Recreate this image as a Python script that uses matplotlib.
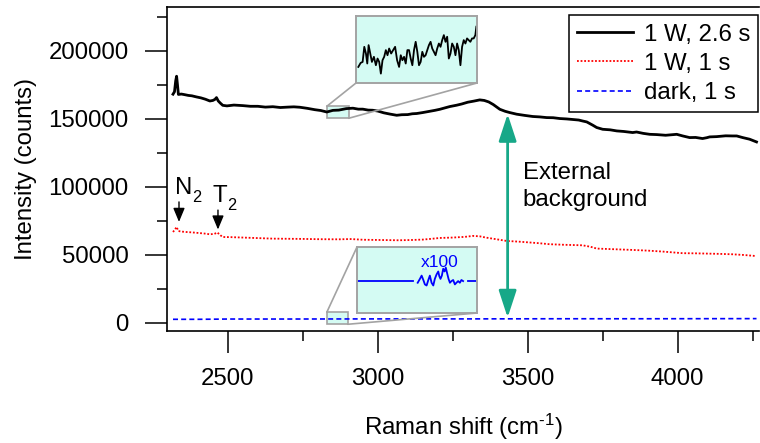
import matplotlib
matplotlib.use("Agg")
import matplotlib.pyplot as plt
from matplotlib.patches import Rectangle, ConnectionPatch, ArrowStyle
from matplotlib.ticker import MultipleLocator

plt.rcParams['font.family'] = ['Liberation Sans', 'DejaVu Sans']
plt.rcParams['mathtext.fontset'] = 'custom'
plt.rcParams['mathtext.rm'] = 'Liberation Sans'
plt.rcParams['mathtext.it'] = 'Liberation Sans:italic'

# ---------------- data ----------------
shift_hi = [2317, 2322, 2326, 2329, 2332, 2335, 2345, 2357, 2368, 2380, 2395, 2410, 2425,
            2440, 2450, 2457, 2462, 2468, 2475, 2483, 2497, 2520, 2550, 2575, 2600, 2625,
            2650, 2675, 2700, 2720, 2740, 2765, 2790, 2810, 2830, 2850, 2870, 2895, 2917,
            2935, 2950, 2968, 2983, 3000, 3020, 3040, 3063, 3080, 3100, 3115, 3130, 3150,
            3170, 3190, 3207, 3225, 3240, 3263, 3280, 3300, 3320, 3340, 3355, 3370, 3385,
            3407, 3425, 3440, 3463, 3490, 3517, 3540, 3563, 3585, 3607, 3630, 3650, 3670,
            3683, 3697, 3717, 3730, 3750, 3775, 3797, 3820, 3850, 3863, 3885, 3907, 3930,
            3960, 3997, 4017, 4040, 4060, 4083, 4097, 4107, 4130, 4160, 4183, 4197, 4217,
            4240, 4263]
int_hi = [168200, 170000, 178000, 181400, 175000, 168000, 168300, 167800, 167300, 167000,
          166200, 165500, 164500, 163200, 163600, 164400, 165700, 163200, 161600, 160000,
          159600, 160200, 159800, 159300, 159300, 158700, 159000, 158400, 158700, 158900,
          158600, 157800, 156800, 156200, 155100, 156300, 156500, 157600, 157900, 157200,
          157200, 156500, 156400, 155800, 154500, 153600, 152700, 153100, 153200, 153800,
          154000, 154700, 155500, 156300, 157100, 158200, 159100, 160100, 161000, 162300,
          163100, 164000, 163600, 162500, 160600, 157100, 155600, 154700, 153500, 152600,
          151800, 151500, 151000, 150900, 150300, 150000, 149600, 149200, 148500, 147800,
          145400, 143700, 142400, 142000, 141200, 140800, 140000, 140400, 139400, 138700,
          138500, 138000, 138700, 137500, 136300, 136400, 135600, 136200, 136800, 137000,
          137600, 137500, 137500, 136300, 135100, 133100]

shift_lo = [2317, 2323, 2329, 2335, 2345, 2360, 2380, 2400, 2420, 2440, 2455, 2465, 2475,
            2483, 2510, 2550, 2600, 2650, 2700, 2750, 2800, 2870, 2910, 2950, 3010, 3070,
            3110, 3150, 3180, 3207, 3250, 3290, 3317, 3340, 3360, 3400, 3430, 3470, 3500,
            3540, 3573, 3620, 3683, 3710, 3730, 3790, 3850, 3900, 3950, 4017, 4060, 4100,
            4140, 4183, 4220, 4257]
int_lo = [66900, 68500, 70600, 67600, 67200, 66900, 66600, 66200, 65800, 65200, 65500,
          66500, 64500, 63200, 63100, 62800, 62400, 62000, 61900, 61800, 61600, 61500,
          61700, 61200, 61000, 60800, 61000, 61300, 61900, 62500, 62800, 63300, 64000,
          63700, 62800, 61400, 60300, 59800, 59300, 58600, 57900, 57500, 57100, 56000,
          54700, 54200, 53700, 53200, 52500, 51300, 51200, 51000, 50800, 50500, 50000, 49300]

shift_dark = [2317, 2400, 2460, 2500, 2700, 3000, 3300, 3600, 3900, 4263]
int_dark = [2700, 2700, 2800, 2900, 2900, 3000, 3000, 3100, 3100, 3200]

# zoomed segment of the 1 W, 2.6 s spectrum (inset 1)
zoom_shift_hi = [2831.4, 2832.8, 2834.0, 2835.0, 2836.0, 2836.8, 2837.6, 2838.4, 2839.6,
                 2840.8, 2842.0, 2843.0, 2844.0, 2845.0, 2846.0, 2847.0, 2848.0, 2849.0,
                 2850.0, 2851.2, 2852.4, 2853.6, 2854.8, 2856.0, 2857.0, 2858.0, 2859.0,
                 2860.0, 2861.0, 2862.0, 2863.0, 2864.0, 2865.0, 2866.0, 2867.0, 2868.0,
                 2869.0, 2870.0, 2871.0, 2872.0, 2873.0, 2874.0, 2875.0, 2876.0, 2877.0,
                 2878.0, 2879.0, 2880.0, 2881.0, 2882.0, 2883.0, 2884.0, 2885.0, 2886.0,
                 2887.0, 2888.0, 2889.0, 2890.0, 2891.0, 2892.0, 2893.0, 2894.0, 2895.0,
                 2896.0, 2897.0, 2898.0, 2899.0, 2900.0, 2901.0, 2902.0, 2902.6]
zoom_int_hi = [152800, 153250, 153360, 155050, 154300, 153180, 155240, 154490, 153360,
               153930, 152990, 153740, 153360, 152050, 153550, 153930, 154680, 154110,
               154860, 154300, 154680, 155050, 153550, 152800, 154110, 153550, 153930,
               153180, 154680, 154680, 153740, 152990, 154680, 155610, 154490, 152990,
               153360, 154490, 153930, 154110, 154680, 155240, 155610, 154860, 154490,
               154110, 154860, 155420, 155050, 155800, 156360, 155610, 156180, 153740,
               154300, 155420, 155050, 154110, 155420, 154680, 152990, 155050, 155800,
               155420, 155990, 155800, 155610, 155990, 155990, 156360, 157300]

# zoomed segment of the dark spectrum (inset 2), middle part magnified x100
zoom_shift_dark_a = [2830.6, 2862.9]
zoom_int_dark_a = [2496, 2496]
zoom_shift_dark_b = [2865.4, 2866.7, 2867.7, 2868.7, 2869.6, 2870.6, 2871.6, 2872.5, 2873.5,
                     2874.5, 2875.4, 2876.4, 2877.4, 2878.0, 2878.7, 2879.5, 2880.3, 2881.1,
                     2881.8, 2882.6, 2883.4, 2884.2, 2885.1, 2886.1, 2887.1, 2888.0, 2889.0,
                     2890.0, 2890.9, 2891.9]
zoom_int_dark_b = [2490, 2504, 2516, 2500, 2484, 2480, 2500, 2516, 2490, 2480, 2504, 2520,
                   2531, 2514, 2504, 2516, 2541, 2531, 2545, 2524, 2504, 2490, 2496, 2500,
                   2484, 2490, 2496, 2490, 2500, 2496]
zoom_shift_dark_c = [2894.8, 2899.6]
zoom_int_dark_c = [2496, 2496]

labels = ['1 W, 2.6 s', '1 W, 1 s', 'dark, 1 s']
xticks = [2500, 3000, 3500, 4000]
yticks = [0, 50000, 100000, 150000, 200000]

# ---------------- figure ----------------
FS = 17.3
W, H = 760, 443
fig = plt.figure(figsize=(W / 100, H / 100), dpi=100)
ax = fig.add_axes([167 / W, (H - 331) / H, (W - 0.5 - 167) / W, (331 - 7) / H])

l1, = ax.plot(shift_hi, int_hi, color='black', lw=2.0, zorder=3)
l2, = ax.plot(shift_lo, int_lo, color='#ff0000', lw=1.3, ls=(0, (1, 1.0)), zorder=3)
l3, = ax.plot(shift_dark, int_dark, color='#0000ff', lw=1.2, ls=(0, (3.0, 1.9)), zorder=3)

ax.set_xlim(2297, 4273)
ax.set_ylim(-5900, 232300)
ax.set_xticks(xticks)
ax.set_yticks(yticks)
ax.xaxis.set_minor_locator(MultipleLocator(250))
ax.yaxis.set_minor_locator(MultipleLocator(25000))
ax.tick_params(which='major', direction='out', length=15.5, width=1.1, labelsize=FS)
ax.tick_params(which='minor', direction='out', length=7.5, width=1.1)
ax.tick_params(axis='y', which='major', pad=12)
ax.tick_params(axis='x', which='major', pad=11)
ax.tick_params(right=False, top=False, which='both')
for s in ['left', 'bottom', 'top']:
    ax.spines[s].set_linewidth(1.2)
ax.spines['right'].set_visible(False)

ax.set_xlabel('Raman shift (cm$^{\u2010\\mathregular{1}}$)', fontsize=FS, labelpad=16)
ax.set_ylabel('Intensity (counts)', fontsize=FS, labelpad=8)

leg = ax.legend([l1, l2, l3], labels, loc='upper right', bbox_to_anchor=(0.998, 0.975),
                borderaxespad=0, fontsize=FS, handlelength=2.3, handletextpad=0.45,
                labelspacing=0.3, borderpad=0.35, fancybox=False, framealpha=1,
                edgecolor='black')
leg.get_frame().set_linewidth(1.1)

# N2 / T2 annotations
ax.text(2323, 94600, 'N', fontsize=FS, ha='left', va='baseline')
ax.text(2381, 88800, '2', fontsize=FS * 0.68, ha='left', va='baseline')
ax.text(2450, 88800, 'T', fontsize=FS, ha='left', va='baseline')
ax.text(2498, 82900, '2', fontsize=FS * 0.68, ha='left', va='baseline')
ap = dict(arrowstyle=ArrowStyle('-|>', head_length=0.6, head_width=0.25), color='black',
          lw=1.0, shrinkA=0, shrinkB=0, mutation_scale=14)
ax.annotate('', xy=(2337, 74300), xytext=(2337, 89000), arrowprops=ap)
ax.annotate('', xy=(2467, 68700), xytext=(2467, 83000), arrowprops=ap)

# external background arrow
green = '#17a888'
ax.annotate('', xy=(3433, 153600), xytext=(3433, 4000),
            arrowprops=dict(arrowstyle=ArrowStyle('<|-|>', head_length=0.55, head_width=0.18),
                            color=green, lw=2.0, shrinkA=0, shrinkB=0, mutation_scale=30))
ax.text(3483, 118500, 'External\nbackground', fontsize=FS, ha='left', va='top',
        linespacing=1.3)

# ---------------- insets ----------------
cyan = '#d4fbf3'
gray = '#a3a3a3'


def make_inset(rect_px, src_box):
    x0, y0, x1, y1 = rect_px
    ins = fig.add_axes([x0 / W, (H - y1) / H, (x1 - x0) / W, (y1 - y0) / H])
    ins.set_facecolor(cyan)
    ins.set_xticks([])
    ins.set_yticks([])
    for s in ins.spines.values():
        s.set_color(gray)
        s.set_linewidth(1.4)
    bx0, by0, bx1, by1 = src_box
    ax.add_patch(Rectangle((bx0, by0), bx1 - bx0, by1 - by0, facecolor=cyan,
                           edgecolor=gray, lw=1.2, zorder=2))
    return ins


# inset 1 : zoom of the black spectrum
ins1 = make_inset((356, 16, 477, 83), (2830, 150500, 2903, 159300))
ins1.plot(zoom_shift_hi, zoom_int_hi, color='black', lw=1.3)
ins1.set_xlim(2830, 2903)
ins1.set_ylim(151000, 158500)
for xa, ya, xb, yb in [(2830, 159300, 0, 0), (2903, 150500, 1, 0)]:
    fig.add_artist(ConnectionPatch(xyA=(xa, ya), coordsA=ax.transData, xyB=(xb, yb),
                                   coordsB=ins1.transAxes, color=gray, lw=1.2, zorder=1))

# inset 2 : zoom of the dark spectrum
ins2 = make_inset((357, 247, 477, 313), (2830, -950, 2900, 7900))
ins2.plot(zoom_shift_dark_a, zoom_int_dark_a, color='#0000ff', lw=1.3)
ins2.plot(zoom_shift_dark_b, zoom_int_dark_b, color='#0000ff', lw=1.3)
ins2.plot(zoom_shift_dark_c, zoom_int_dark_c, color='#0000ff', lw=1.3)
ins2.set_xlim(2830, 2900)
ins2.set_ylim(2380, 2620)
ins2.text(0.685, 0.77, 'x100', color='#0000ff', fontsize=12.5, ha='center', va='center',
          transform=ins2.transAxes)
for xa, ya, xb, yb in [(2830, 7900, 0, 1), (2900, -950, 1, 0)]:
    fig.add_artist(ConnectionPatch(xyA=(xa, ya), coordsA=ax.transData, xyB=(xb, yb),
                                   coordsB=ins2.transAxes, color=gray, lw=1.2, zorder=1))

fig.savefig('out.png', dpi=100)
